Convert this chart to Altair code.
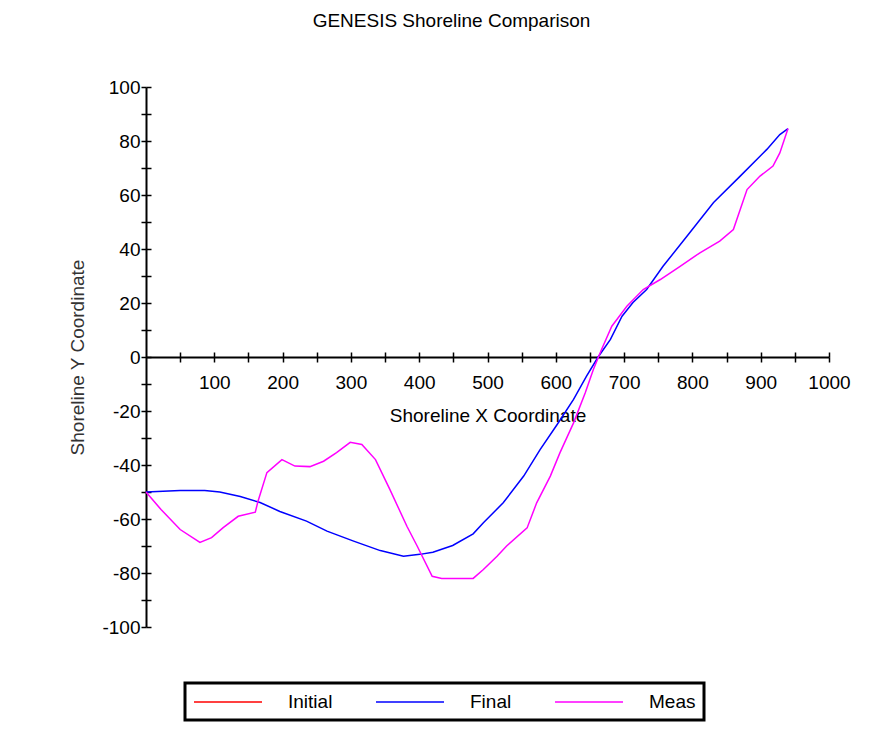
import altair as alt
import pandas as pd

# ---- data ----
final_x = [0, 50, 86, 108, 138, 167, 196, 235, 265, 304, 343, 377, 401, 420, 449,
           479, 494, 523, 553, 577, 602, 626, 645, 662, 680, 697, 713, 733, 757,
           792, 831, 870, 909, 928, 940]
final_y = [-50, -49.4, -49.4, -50, -51.7, -53.9, -57.2, -60.8, -64.5, -68.2, -71.7,
           -73.8, -73.1, -72.3, -69.8, -65.5, -61.4, -54, -44.1, -34.3, -25, -15.7,
           -7.1, 0, 6.5, 15.1, 20.2, 25, 33.6, 44.7, 57.2, 67, 76.9, 82.4, 84.6]

meas_x = [0, 22, 50, 79, 96, 113, 135, 160, 164, 177, 199, 218, 240, 260, 279, 299,
          316, 336, 357, 382, 397, 419, 433, 479, 494, 514, 528, 558, 572, 592, 606,
          626, 643, 655, 667, 682, 704, 728, 753, 782, 811, 840, 860, 870, 880, 899,
          918, 928, 940]
meas_y = [-50, -56.5, -63.9, -68.7, -66.9, -63.2, -59, -57.5, -53.4, -42.8, -38,
          -40.4, -40.6, -38.6, -35.4, -31.6, -32.4, -38, -49, -62.7, -70, -81.2, -82,
          -82, -78.7, -73.8, -70, -63.3, -54, -44.1, -35.5, -24.4, -13.3, -4.6, 2.8,
          11.4, 18.8, 25, 28.7, 33.6, 38.6, 42.9, 47.2, 54.6, 62, 67, 70.7, 75.6, 84.6]

series_names = ["Initial", "Final", "Meas"]
series_colors = ["#FF0000", "#0000FF", "#FF00FF"]

x_ticks = list(range(50, 1001, 50))
y_ticks = list(range(-100, 101, 10))

rows = []
for i, (xv, yv) in enumerate(zip(final_x, final_y)):
    rows.append({"series": "Final", "order": i, "x": xv, "y": yv})
for i, (xv, yv) in enumerate(zip(meas_x, meas_y)):
    rows.append({"series": "Meas", "order": i, "x": xv, "y": yv})
df = pd.DataFrame(rows)

W, H = 683, 540
FONT = "Liberation Sans"

xscale = alt.Scale(domain=[0, 1000], nice=False, zero=False)
yscale = alt.Scale(domain=[-100, 100], nice=False, zero=False)

color = alt.Color(
    "series:N",
    scale=alt.Scale(domain=series_names, range=series_colors),
    sort=series_names,
    legend=alt.Legend(
        title=None, orient="none", legendX=39, legendY=596,
        direction="horizontal", columns=3, columnPadding=40,
        symbolType="M-1,0H5.8", symbolSize=400, symbolStrokeWidth=1.5,
        labelOffset=73, labelFont=FONT, labelFontSize=19, labelColor="black",
        strokeColor="black", padding=8, fillColor="white",
        labelLimit=200,
    ),
)

lines = alt.Chart(df).mark_line(strokeWidth=1.5, interpolate="linear").encode(
    x=alt.X("x:Q", scale=xscale, axis=alt.Axis(
        orient="bottom", offset=-H / 2, values=x_ticks,
        labelExpr="datum.value % 100 == 0 ? '' + datum.value : ''",
        title="Shoreline X Coordinate", titleFont=FONT, titleFontSize=19,
        titleFontWeight="normal", titleColor="black", titlePadding=14,
        labelFont=FONT, labelFontSize=19, labelColor="black", labelPadding=11,
        labelOverlap=False, labelFlush=False,
        domainColor="black", domainWidth=2, tickColor="black", tickWidth=1.5,
        tickSize=5, grid=False)),
    y=alt.Y("y:Q", scale=yscale, axis=alt.Axis(
        orient="left", values=y_ticks,
        labelExpr="datum.value % 20 == 0 ? '' + datum.value : ''",
        title="Shoreline Y Coordinate", titleFont=FONT, titleFontSize=19,
        titleFontWeight="normal", titleColor="#333333", titlePadding=14,
        labelFont=FONT, labelFontSize=19, labelColor="black", labelPadding=1,
        labelOverlap=False, labelFlush=False,
        domainColor="black", domainWidth=2, tickColor="black", tickWidth=1.5,
        tickSize=5, grid=False)),
    color=color,
    detail="series:N",
    order="order:Q",
)

ticks2 = alt.Chart(df).mark_line(opacity=0).encode(
    x=alt.X("x:Q", scale=xscale, axis=alt.Axis(
        orient="top", offset=-H / 2, values=x_ticks, labels=False, domain=False,
        title=None, tickColor="black", tickWidth=1.5, tickSize=5, grid=False)),
    y=alt.Y("y:Q", scale=yscale, axis=alt.Axis(
        orient="right", offset=-W, values=y_ticks, labels=False, domain=False,
        title=None, tickColor="black", tickWidth=1.5, tickSize=5, grid=False)),
    detail="series:N",
    order="order:Q",
)

chart = alt.layer(lines, ticks2).resolve_axis(x="independent", y="independent").properties(
    width=W, height=H,
    background="white",
    title=alt.TitleParams("GENESIS Shoreline Comparison", font=FONT, fontSize=19,
                          fontWeight="normal", color="black", anchor="middle",
                          dx=-36, offset=47),
    autosize=alt.AutoSizeParams(type="none"),
    padding={"left": 138, "top": 79, "right": 57, "bottom": 105},
).configure_view(strokeWidth=0, stroke="transparent").configure_legend(strokeWidth=3)

chart.save("out.html", embed_options={"renderer": "svg", "actions": False})
